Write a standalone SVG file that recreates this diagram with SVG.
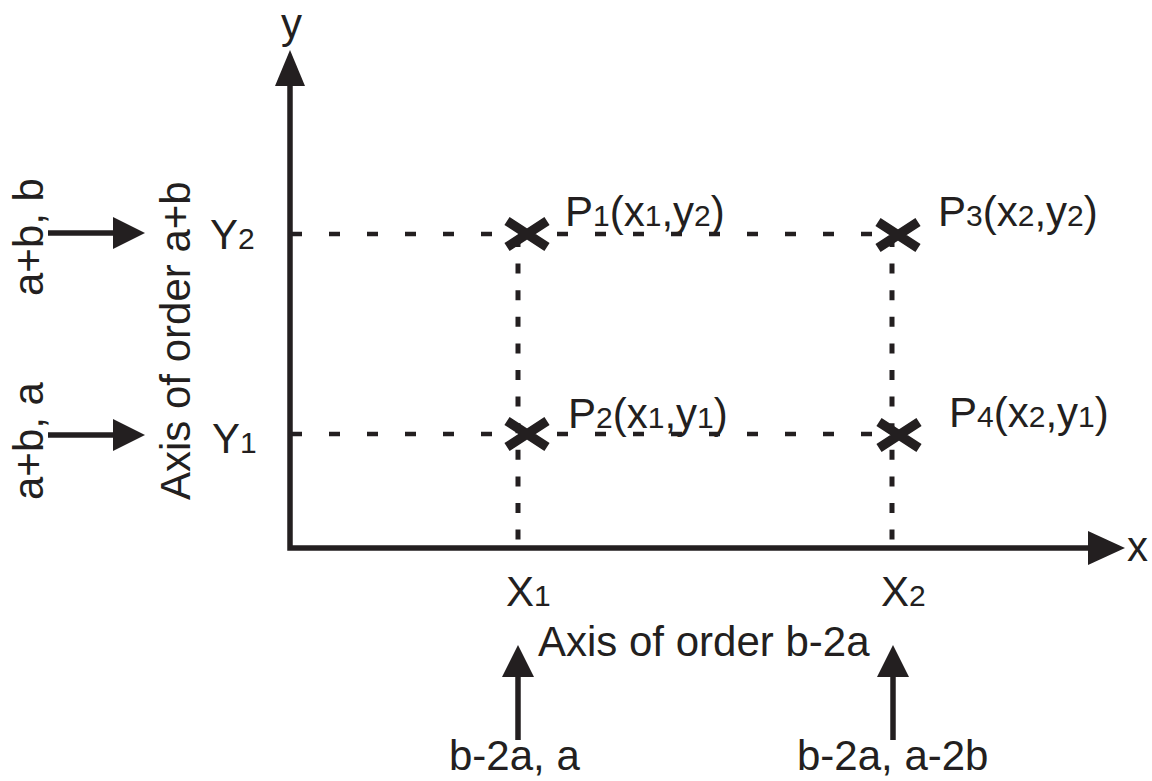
<svg xmlns="http://www.w3.org/2000/svg" width="1152" height="781" viewBox="0 0 1152 781">
<style>
text{font-family:"Liberation Sans",Arial,sans-serif;font-size:42px;fill:#231f20}
.s{font-size:30px}
.ax{stroke:#231f20;stroke-width:5.5;fill:none}
.hd{stroke:#231f20;stroke-width:4.5;stroke-dasharray:11 27;fill:none}
.vd{stroke:#231f20;stroke-width:5;stroke-dasharray:10 16.6;fill:none}
.ah{fill:#231f20}
.mk{stroke:#231f20;stroke-width:9.5;fill:none}
</style>
<rect width="1152" height="781" fill="#fff"/>
<g id="connectors">
<path class="hd" d="M291 234H896"/>
<path class="hd" d="M291 434H896"/>
<path class="vd" d="M518 237V548"/>
<path class="vd" d="M892 237V548"/>
<path class="ax" d="M290 80V548H1095"/>
<polygon class="ah" points="290,50 275,86 305,86"/>
<polygon class="ah" points="1125,548 1088,531 1088,565"/>
<path class="ax" d="M48 233H116"/>
<polygon class="ah" points="145,233 113,217 113,249"/>
<path class="ax" d="M48 435H116"/>
<polygon class="ah" points="145,435 113,419 113,451"/>
<path class="ax" d="M518 740V672"/>
<polygon class="ah" points="518,645 502,677 534,677"/>
<path class="ax" d="M893 740V672"/>
<polygon class="ah" points="893,645 877,677 909,677"/>
</g>
<g id="axis-labels">
<text x="281" y="38">y</text>
<text x="1127" y="561">x</text>
<text x="210" y="249">Y<tspan class="s">2</tspan></text>
<text x="212" y="453">Y<tspan class="s">1</tspan></text>
<text x="506" y="606">X<tspan class="s">1</tspan></text>
<text x="881" y="606">X<tspan class="s">2</tspan></text>
<text x="538" y="656">Axis of order b-2a</text>
<text transform="translate(190,500) rotate(-90)">Axis of order a+b</text>
<text transform="translate(43,296) rotate(-90)">a+b, b</text>
<text transform="translate(43,500) rotate(-90)">a+b, a</text>
<text x="449" y="770">b-2a, a</text>
<text x="797" y="770">b-2a, a-2b</text>
</g>
<g id="P1">
<path class="mk" d="M507 221L547 247M547 221L507 247"/>
<text x="565" y="226">P<tspan class="s">1</tspan>(x<tspan class="s">1</tspan>,y<tspan class="s">2</tspan>)</text>
</g>
<g id="P2">
<path class="mk" d="M507 421L547 447M547 421L507 447"/>
<text x="568" y="428">P<tspan class="s">2</tspan>(x<tspan class="s">1</tspan>,y<tspan class="s">1</tspan>)</text>
</g>
<g id="P3">
<path class="mk" d="M878 222L918 248M918 222L878 248"/>
<text x="938" y="226">P<tspan class="s">3</tspan>(x<tspan class="s">2</tspan>,y<tspan class="s">2</tspan>)</text>
</g>
<g id="P4">
<path class="mk" d="M879 422L919 448M919 422L879 448"/>
<text x="949" y="427">P<tspan class="s">4</tspan>(x<tspan class="s">2</tspan>,y<tspan class="s">1</tspan>)</text>
</g>
</svg>
